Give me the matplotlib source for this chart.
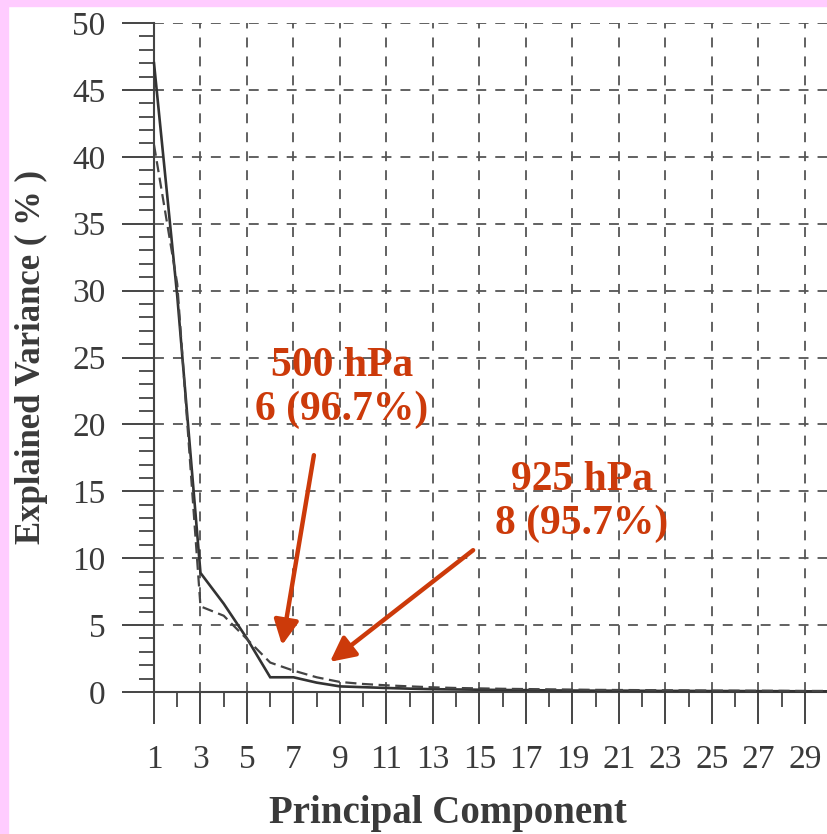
import matplotlib
matplotlib.use("Agg")
import matplotlib.pyplot as plt
from matplotlib.patches import Rectangle
from matplotlib.ticker import MultipleLocator, FixedLocator

# Explained variance (%) per principal component
components = list(range(1, 31))
solid_series = [47.0, 29.6, 8.9, 6.6, 4.0, 1.1, 1.1, 0.7, 0.42, 0.36, 0.3, 0.25, 0.21,
                0.19, 0.17, 0.15, 0.14, 0.12, 0.11, 0.1, 0.1, 0.09, 0.08, 0.08, 0.07,
                0.07, 0.06, 0.06, 0.05, 0.05]
dashed_series = [40.9, 30.5, 6.4, 5.7, 3.95, 2.2, 1.6, 1.1, 0.75, 0.6, 0.5, 0.42, 0.35,
                 0.3, 0.27, 0.24, 0.22, 0.2, 0.18, 0.16, 0.15, 0.14, 0.13, 0.12, 0.11,
                 0.1, 0.1, 0.09, 0.08, 0.08]
x_ticks = list(range(1, 30, 2))
y_ticks = list(range(0, 51, 5))

# Annotations: label text, label position, arrow start and tip (data coords)
notes = [
    ("500 hPa\n6 (96.7%)", (9.09, 22.7), (7.88, 17.7), (6.51, 3.5)),
    ("925 hPa\n8 (95.7%)", (19.42, 14.2), (14.73, 10.6), (8.57, 2.25)),
]

INK = "#3a3a3a"
RED = "#CC3A0A"
SERIF = ["Liberation Serif", "DejaVu Serif"]

fig = plt.figure(figsize=(8.28, 8.34), dpi=100)
fig.patch.set_facecolor("white")
# pink frame strips along the top and left edges
fig.patches.append(Rectangle((0, 1 - 6 / 834), 1, 6 / 834, transform=fig.transFigure,
                             color="#FFCCFF", zorder=0))
fig.patches.append(Rectangle((0, 0), 8 / 828, 1, transform=fig.transFigure,
                             color="#FFCCFF", zorder=0))

ax = fig.add_axes([154 / 828, 1 - 692 / 834, 1 - 154 / 828, (692 - 23) / 834])
ax.set_xlim(1, 30)
ax.set_ylim(0, 50)

ax.plot(components, solid_series, color="#333333", lw=1.9, solid_joinstyle="miter",
        zorder=4, clip_on=False)
ax.plot(components, dashed_series, color="#444444", lw=1.6, dashes=(5, 2.5),
        zorder=4, clip_on=False)

# spines
for side in ("top", "right"):
    ax.spines[side].set_visible(False)
for side in ("left", "bottom"):
    ax.spines[side].set_color("#444444")
    ax.spines[side].set_linewidth(1.5)

# ticks
ax.xaxis.set_major_locator(FixedLocator(x_ticks))
ax.xaxis.set_minor_locator(MultipleLocator(1))
ax.yaxis.set_major_locator(FixedLocator(y_ticks))
ax.yaxis.set_minor_locator(MultipleLocator(1))
ax.tick_params(axis="both", which="major", direction="out", length=23, width=1.4,
               color="#444444", labelsize=24, labelcolor=INK)
ax.tick_params(axis="both", which="minor", direction="out", length=11, width=1.3,
               color="#444444")
ax.tick_params(axis="x", which="major", pad=15)
ax.tick_params(axis="y", which="major", pad=12)
for lab in ax.get_xticklabels() + ax.get_yticklabels():
    lab.set_family(SERIF)

# dashed grid at major positions
for xv in x_ticks[1:]:
    ax.axvline(xv, color="#555555", lw=1.3, dashes=(5.5, 5), zorder=1)
for yv in y_ticks[1:]:
    ax.axhline(yv, color="#555555", lw=1.3, dashes=(5.5, 5), zorder=1)

ax.set_xlabel("Principal Component", family=SERIF, fontweight="bold", fontsize=28,
              color=INK)
ax.set_ylabel("Explained Variance ( % )", family=SERIF, fontweight="bold", fontsize=25,
              color=INK)
ax.xaxis.label.set_va("center")
ax.yaxis.label.set_va("center")
ax.xaxis.set_label_coords((448 - 154) / (828 - 154), -(813 - 692) / (692 - 23))
ax.yaxis.set_label_coords(-(154 - 31) / (828 - 154), (692 - 357) / (692 - 23))

for text, tpos, start, tip in notes:
    ax.text(tpos[0], tpos[1], text, ha="center", va="center", family=SERIF,
            fontweight="bold", fontsize=30, color=RED, linespacing=1.2, zorder=6)
    ax.annotate("", xy=tip, xytext=start,
                arrowprops=dict(arrowstyle="-|>,head_length=0.6,head_width=0.3",
                                color=RED, lw=3.2, mutation_scale=25,
                                shrinkA=0, shrinkB=0), zorder=6)

fig.savefig("out.png", dpi=100, facecolor="white")
